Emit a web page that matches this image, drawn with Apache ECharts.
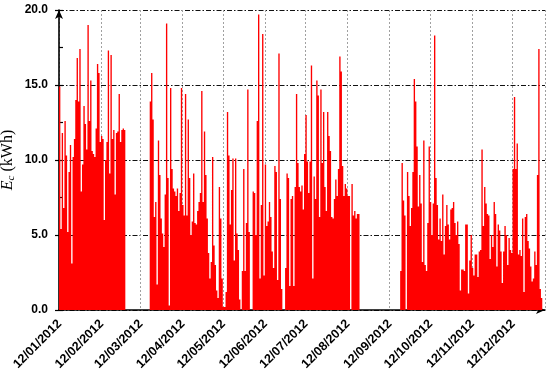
<!DOCTYPE html>
<html>
<head>
<meta charset="utf-8">
<script src="https://cdn.jsdelivr.net/npm/echarts@6/dist/echarts.min.js"></script>
<style>
  html, body { margin: 0; padding: 0; background: #fff; }
  #chart { width: 550px; height: 378px; }
</style>
</head>
<body>
<div id="chart"></div>
<script>
  // daily consumption (kWh), one value per day
  var firstDay = new Date(2012, 0, 12),
      dayCount = 359;

  var janFeb = [14.9, 5.4, 11.8, 6.8, 12.6, 10.3, 5.2, 9.2, 11.0, 3.1, 10.2, 11.4, 14.0, 16.8, 13.9,
    17.4, 7.9, 9.7, 13.6, 12.4, 10.7, 19.0, 12.6, 15.3, 10.6, 10.4, 10.2, 12.1, 16.4, 15.8,
    11.2, 11.6, 11.4, 6.0, 10.0, 11.2, 17.3, 9.1, 17.0, 11.4, 12.0, 7.7, 11.8, 11.9, 14.4,
    11.2, 12.0, 12.1, 12.0];
  var marMay = [13.9, 15.8, 12.7, 6.2, 7.2, 1.7, 11.3, 9.0, 6.1, 5.1, 4.2, 7.7, 19.1, 8.8, 0.3,
    14.8, 9.4, 8.1, 7.9, 7.6, 8.1, 6.6, 7.8, 14.8, 7.0, 6.3, 14.4, 6.3, 12.7, 8.8, 5.0, 5.9,
    9.1, 5.8, 5.7, 6.6, 7.2, 7.8, 14.6, 7.2, 11.9, 9.0, 6.1, 3.8, 2.1, 3.2, 10.2, 4.3, 3.0,
    1.3, 0.8, 8.2, 6.1, 2.1, 0.2, 0.2, 1.2, 13.2, 10.3];
  var mayJul = [5.7, 8.0, 10.1, 3.3, 10.1, 5.1, 4.0, 0.7, 0.0, 2.6, 9.4, 2.6, 5.8, 14.7, 5.2,
    0.0, 0.0, 7.9, 7.8, 5.0, 12.6, 19.7, 2.1, 7.0, 18.4, 2.3, 9.7, 5.6, 5.9, 7.2, 6.2, 3.9,
    2.8, 9.6, 9.2, 2.0, 17.1, 7.4, 1.4, 0.0, 0.0, 2.8, 9.1, 8.8, 1.6, 7.4, 7.6, 1.6, 8.2,
    14.4, 9.8, 8.2, 7.9, 8.3, 6.7, 10.4, 13.0, 9.9, 7.8, 9.9];
  var julAug = [16.3, 2.1, 8.9, 7.4, 15.3, 14.3, 6.2, 14.7, 9.8, 13.2, 8.2, 6.6, 13.2, 11.6, 10.6,
    6.2, 6.1, 7.4, 8.7, 7.6, 9.4, 16.9, 15.9, 9.6, 7.6, 8.4, 8.1, 7.6, 7.6, 0.0, 8.4, 6.3,
    6.6, 6.1, 6.4, 6.4];
  var sepOct = [2.6, 9.8, 7.3, 6.3, null, 9.2, 7.6, 5.6, 6.8, 9.2, 15.4, 13.9, 10.9, 6.9, 9.0,
    7.1, 3.2, 11.3, 3.0, 2.6, 5.8, 10.9, 7.2, 5.0, 7.1, 18.3, 8.8, 7.0, 4.7, 6.1, 4.6, 7.7,
    3.7, 5.6, 7.0, 5.7, 4.7, 6.7, 6.8, 7.2, 5.8, 5.0, 5.9, 4.4, 1.3, 2.7, 2.7, 2.6, 5.7, 5.7,
    1.1, 3.3, 5.0, 2.8, 2.3];
  var novDec = [3.7, 3.7, 2.2, 3.9, 4.0, 10.7, 5.6, 8.2, 7.1, 6.4, 6.3, 3.4, 5.0, 4.2, 7.2,
    6.4, 2.9, 5.7, 5.3, 3.9, 1.8, 3.9, 5.6, 5.0, 3.0, 4.8, 4.0, 3.8, 9.4, 14.2, 9.4, 11.1,
    3.7, 4.0, 3.6, 6.1, 1.2, 6.2, 6.4, 4.6, 4.1, 2.9, 1.9, 2.1, 3.9, 3.0, 9.0, 17.4, 1.4, 0.8];

  // each measured run starts on this date
  var segments = [
    { start: new Date(2012, 0, 12), values: janFeb },
    { start: new Date(2012, 2, 19), values: marMay.concat(mayJul, julAug) },
    { start: new Date(2012, 8, 20), values: sepOct.concat(novDec) }
  ];

  var yTicks = [0, 5, 10, 15, 20];

  function pad(n) { return n < 10 ? '0' + n : '' + n; }

  var dates = [], values = [];
  for (var d = 0; d < dayCount; d++) {
    var dt = new Date(2012, 0, 12 + d);
    dates.push(pad(dt.getDate()) + '/' + pad(dt.getMonth() + 1) + '/' + dt.getFullYear());
    values.push(null);
  }
  segments.forEach(function (seg) {
    var off = Math.round((seg.start - firstDay) / 86400000);
    seg.values.forEach(function (v, i) { values[off + i] = v; });
  });

  // a label / tick / grid line on the 12th of each month
  function isTick(idx, val) { return val.slice(0, 2) === '12'; }

  var chart = echarts.init(document.getElementById('chart'));
  chart.setOption({
    animation: false,
    grid: { left: 59, right: 5, top: 10, bottom: 68, outerBoundsMode: 'none' },
    xAxis: [{
      type: 'category',
      data: dates,
      axisLine: {
        lineStyle: { color: '#000', width: 1.5 },
        symbol: ['none', 'arrow'],
        symbolSize: [6, 9]
      },
      axisTick: { alignWithLabel: true, interval: isTick, length: 4, lineStyle: { color: '#000', width: 1.2 } },
      axisLabel: {
        interval: isTick, rotate: 45, margin: 12,
        fontFamily: 'Liberation Sans', fontWeight: 'bold', fontSize: 12.5, color: '#000'
      },
      splitLine: { show: true, interval: isTick, lineStyle: { color: '#a0a0a0', width: 1, type: [2, 2] } }
    }, {
      type: 'category',
      data: dates,
      position: 'bottom',
      axisLine: { show: false },
      axisTick: { alignWithLabel: true, interval: isTick, inside: true, length: 4, lineStyle: { color: '#000', width: 1.2 } },
      axisLabel: { show: false },
      splitLine: { show: false }
    }],
    yAxis: [{
      type: 'value',
      min: yTicks[0], max: yTicks[yTicks.length - 1], interval: 5,
      name: '{i|E}{s|c} (kWh)',
      nameLocation: 'middle',
      nameRotate: 90,
      nameGap: 42,
      nameMoveOverlap: false,
      nameTextStyle: {
        fontFamily: 'Liberation Serif', fontSize: 16, color: '#000',
        rich: {
          i: { fontFamily: 'Liberation Serif', fontStyle: 'italic', fontSize: 16, color: '#000' },
          s: { fontFamily: 'Liberation Serif', fontStyle: 'italic', fontSize: 11, color: '#000', padding: [7, 0, 0, 0] }
        }
      },
      axisLine: {
        show: true,
        lineStyle: { color: '#000', width: 1.6 },
        symbol: ['none', 'arrow'],
        symbolSize: [6, 9]
      },
      axisTick: { show: true, length: 4, lineStyle: { color: '#000', width: 1.2 } },
      axisLabel: {
        formatter: function (v) { return v.toFixed(1); },
        margin: 11,
        fontFamily: 'Liberation Sans', fontWeight: 'bold', fontSize: 12, color: '#000'
      },
      splitLine: { show: true, lineStyle: { color: '#111', width: 1, type: [5, 2, 1.5, 2] } }
    }, {
      type: 'value',
      position: 'left',
      min: 0, max: 20, interval: 2.5,
      axisLine: { show: false },
      axisTick: { show: true, inside: true, length: 4, lineStyle: { color: '#000', width: 1.2 } },
      axisLabel: { show: false },
      splitLine: { show: false }
    }],
    series: [{
      type: 'bar',
      data: values,
      large: true,
      largeThreshold: 100,
      barCategoryGap: '0%',
      itemStyle: { color: '#ff0000' }
    }]
  });
</script>
</body>
</html>
